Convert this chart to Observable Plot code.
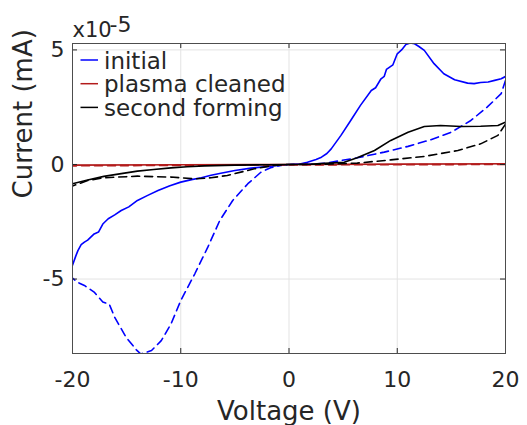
<!DOCTYPE html>
<html><head><meta charset="utf-8">
<script src="https://cdn.jsdelivr.net/npm/d3@7"></script>
<script src="https://cdn.jsdelivr.net/npm/@observablehq/plot@0.6"></script>
<style>html,body{margin:0;padding:0;background:#fff} #chart svg{display:block}</style>
</head><body><div id="chart"></div>
<script>
// Current values are in units of 1e-5 mA (axis multiplier "x10^-5")
const xTicks = [-20, -10, 0, 10, 20];
const yTicks = [-5, 0, 5];
const legendLabels = ["initial", "plasma cleaned", "second forming"];

// initial, sweep up (solid)
const initUpV = [-20, -19.7, -19.5, -19.2, -18.9, -18.6, -18.0, -17.6, -17.2, -16.7, -16.1, -15.5, -14.8, -14.0, -13.1, -12.1, -11.0, -10.0, -9.0, -8.1, -7.2, -6.3, -5.0, -3.5, -2.0, -1.0, 0, 1.0, 1.7, 2.5, 3.0, 3.5, 3.9, 4.8, 5.7, 6.6, 7.6, 8.0, 8.5, 8.8, 9.0, 9.3, 9.6, 10.0, 10.4, 10.8, 11.2, 11.6, 12.0, 12.5, 13.4, 14.3, 15.3, 16.5, 17.1, 17.7, 18.4, 19.0, 19.6, 20];
const initUpI = [-4.4, -4.0, -3.76, -3.5, -3.39, -3.3, -3.03, -2.95, -2.6, -2.37, -2.2, -2.01, -1.85, -1.57, -1.36, -1.14, -0.93, -0.77, -0.66, -0.58, -0.47, -0.38, -0.26, -0.16, -0.09, -0.04, 0, 0.02, 0.1, 0.22, 0.32, 0.48, 0.68, 1.27, 1.92, 2.58, 3.23, 3.35, 3.74, 3.85, 4.15, 4.25, 4.35, 4.83, 5.0, 5.24, 5.3, 5.27, 5.15, 4.98, 4.40, 3.96, 3.70, 3.55, 3.53, 3.58, 3.60, 3.67, 3.74, 3.84];
// initial, sweep back (dashed)
const initDnV = [20, 19.6, 18.3, 16.8, 15.0, 13.1, 11.0, 8.8, 6.3, 4.5, 3.3, 2.0, 1.0, 0, -0.5, -1.0, -1.7, -2.6, -3.8, -5.2, -6.4, -7.5, -8.7, -10.0, -10.9, -11.8, -12.7, -13.2, -13.7, -14.1, -15.05, -16.1, -16.6, -17.2, -18.0, -18.9, -19.5, -20];
const initDnI = [3.67, 3.09, 2.50, 1.92, 1.41, 1.08, 0.79, 0.54, 0.29, 0.15, 0.05, 0.02, 0.01, 0, -0.02, -0.06, -0.14, -0.34, -0.84, -1.57, -2.45, -3.61, -4.77, -5.94, -6.96, -7.69, -8.12, -8.2, -8.27, -8.09, -7.54, -6.67, -6.1, -6.0, -5.57, -5.28, -5.15, -4.96];

// plasma cleaned
const plasmaUpV = [-20, -10, 0, 10, 20];
const plasmaUpI = [-0.03, -0.015, 0, 0.015, 0.03];
const plasmaDnV = [20, 10, 0, -10, -20];
const plasmaDnI = [0.0, -0.01, -0.02, -0.04, -0.06];

// second forming
const secondUpV = [-20, -18.6, -17.1, -15.5, -14.0, -12.5, -10.9, -9.4, -7.8, -5, -2, 0, 2, 3.3, 5.1, 6.3, 7.9, 9.4, 11.0, 12.5, 14.0, 15.9, 17.7, 19.3, 20];
const secondUpI = [-0.84, -0.68, -0.52, -0.40, -0.29, -0.22, -0.15, -0.10, -0.06, -0.03, -0.01, 0, 0.01, 0.05, 0.1, 0.29, 0.61, 1.05, 1.41, 1.66, 1.70, 1.66, 1.67, 1.70, 1.85];
const secondDnV = [20, 19.3, 17.7, 15.6, 12.5, 9.4, 6.3, 3, 0, -1.4, -3.2, -5.7, -7.2, -8.7, -10.9, -14.0, -17.1, -18.6, -20];
const secondDnI = [1.76, 1.27, 0.9, 0.61, 0.35, 0.2, 0.06, 0.01, 0, -0.04, -0.19, -0.48, -0.58, -0.63, -0.55, -0.51, -0.58, -0.70, -0.94];

const blue = "#0000ff", red = "#b31b1b", black = "#000000";
const ink = "#262626";

const W = 527, H = 425;
const mL = 72, mR = 22, mT = 43, mB = 72;
const xDomain = [-20, 20], yDomain = [-8.25, 5.28];
const plotW = W - mL - mR, plotH = H - mT - mB;
const tkY = 5 * (yDomain[1] - yDomain[0]) / plotH;
const tkX = 5 * (xDomain[1] - xDomain[0]) / plotW;

const rows = (V, I) => V.map((v, k) => ({v, i: I[k]}));
const line = (V, I, stroke, dash) => Plot.line(rows(V, I), {x: "v", y: "i", stroke, strokeWidth: 1.6, strokeDasharray: dash, clip: true, curve: "linear"});

const svg = Plot.plot({
  width: W, height: H,
  marginLeft: mL, marginRight: mR, marginTop: mT, marginBottom: mB,
  x: {domain: xDomain},
  y: {domain: yDomain},
  style: {fontFamily: "DejaVu Sans", color: ink, background: "#fff", overflow: "visible"},
  marks: [
    Plot.ruleX(xTicks, {x: d => d, stroke: "#e3e3e3", strokeWidth: 1}),
    Plot.ruleY(yTicks, {y: d => d, stroke: "#e3e3e3", strokeWidth: 1}),
    line(initUpV, initUpI, blue, null),
    line(initDnV, initDnI, blue, "8,5"),
    line(plasmaUpV, plasmaUpI, red, null),
    line(plasmaDnV, plasmaDnI, red, "8,5"),
    line(secondUpV, secondUpI, black, null),
    line(secondDnV, secondDnI, black, "8,5"),
    Plot.ruleX(xTicks, {x: d => d, y1: yDomain[0], y2: yDomain[0] + tkY, stroke: ink}),
    Plot.ruleX(xTicks, {x: d => d, y1: yDomain[1], y2: yDomain[1] - tkY, stroke: ink}),
    Plot.ruleY(yTicks, {y: d => d, x1: xDomain[0], x2: xDomain[0] + tkX, stroke: ink}),
    Plot.ruleY(yTicks, {y: d => d, x1: xDomain[1], x2: xDomain[1] - tkX, stroke: ink}),
    Plot.frame({stroke: "#4d4d4d", strokeWidth: 1}),
    Plot.axisX({ticks: xTicks, tickSize: 0, tickPadding: 18, fontSize: 22, label: null, tickFormat: d => String(d), fill: ink}),
    Plot.axisY({ticks: yTicks, tickSize: 0, tickPadding: 8, fontSize: 22, label: null, tickFormat: d => String(d), fill: ink}),
    Plot.text(["Voltage (V)"], {frameAnchor: "bottom", lineAnchor: "middle", dy: 58, fontSize: 26, fill: ink}),
    Plot.text(["Current (mA)"], {frameAnchor: "left", lineAnchor: "middle", dx: -49, rotate: -90, fontSize: 26, fill: ink}),
    Plot.text(["x10"], {frameAnchor: "top-left", lineAnchor: "middle", textAnchor: "start", dx: 0, dy: -13, fontSize: 21, fill: ink, style: {letterSpacing: "2px"}}),
    Plot.text(["-5"], {frameAnchor: "top-left", lineAnchor: "middle", textAnchor: "start", dx: 37, dy: -19, fontSize: 22, fill: ink})
  ]
});

// legend (no box), drawn over the plot area
const lg = d3.select(svg).append("g").attr("font-family", "DejaVu Sans").attr("font-size", 23).attr("fill", ink).attr("text-anchor", "start");
[blue, red, black].forEach((c, k) => {
  const y = 60 + k * 23.7;
  lg.append("line").attr("x1", 80.5).attr("x2", 98).attr("y1", y).attr("y2", y).attr("stroke", c).attr("stroke-width", 1.5);
  lg.append("text").attr("x", 104).attr("y", y + 8.5).attr("text-anchor", "start").text(legendLabels[k]);
});

document.getElementById("chart").appendChild(svg);
</script>
</body></html>
